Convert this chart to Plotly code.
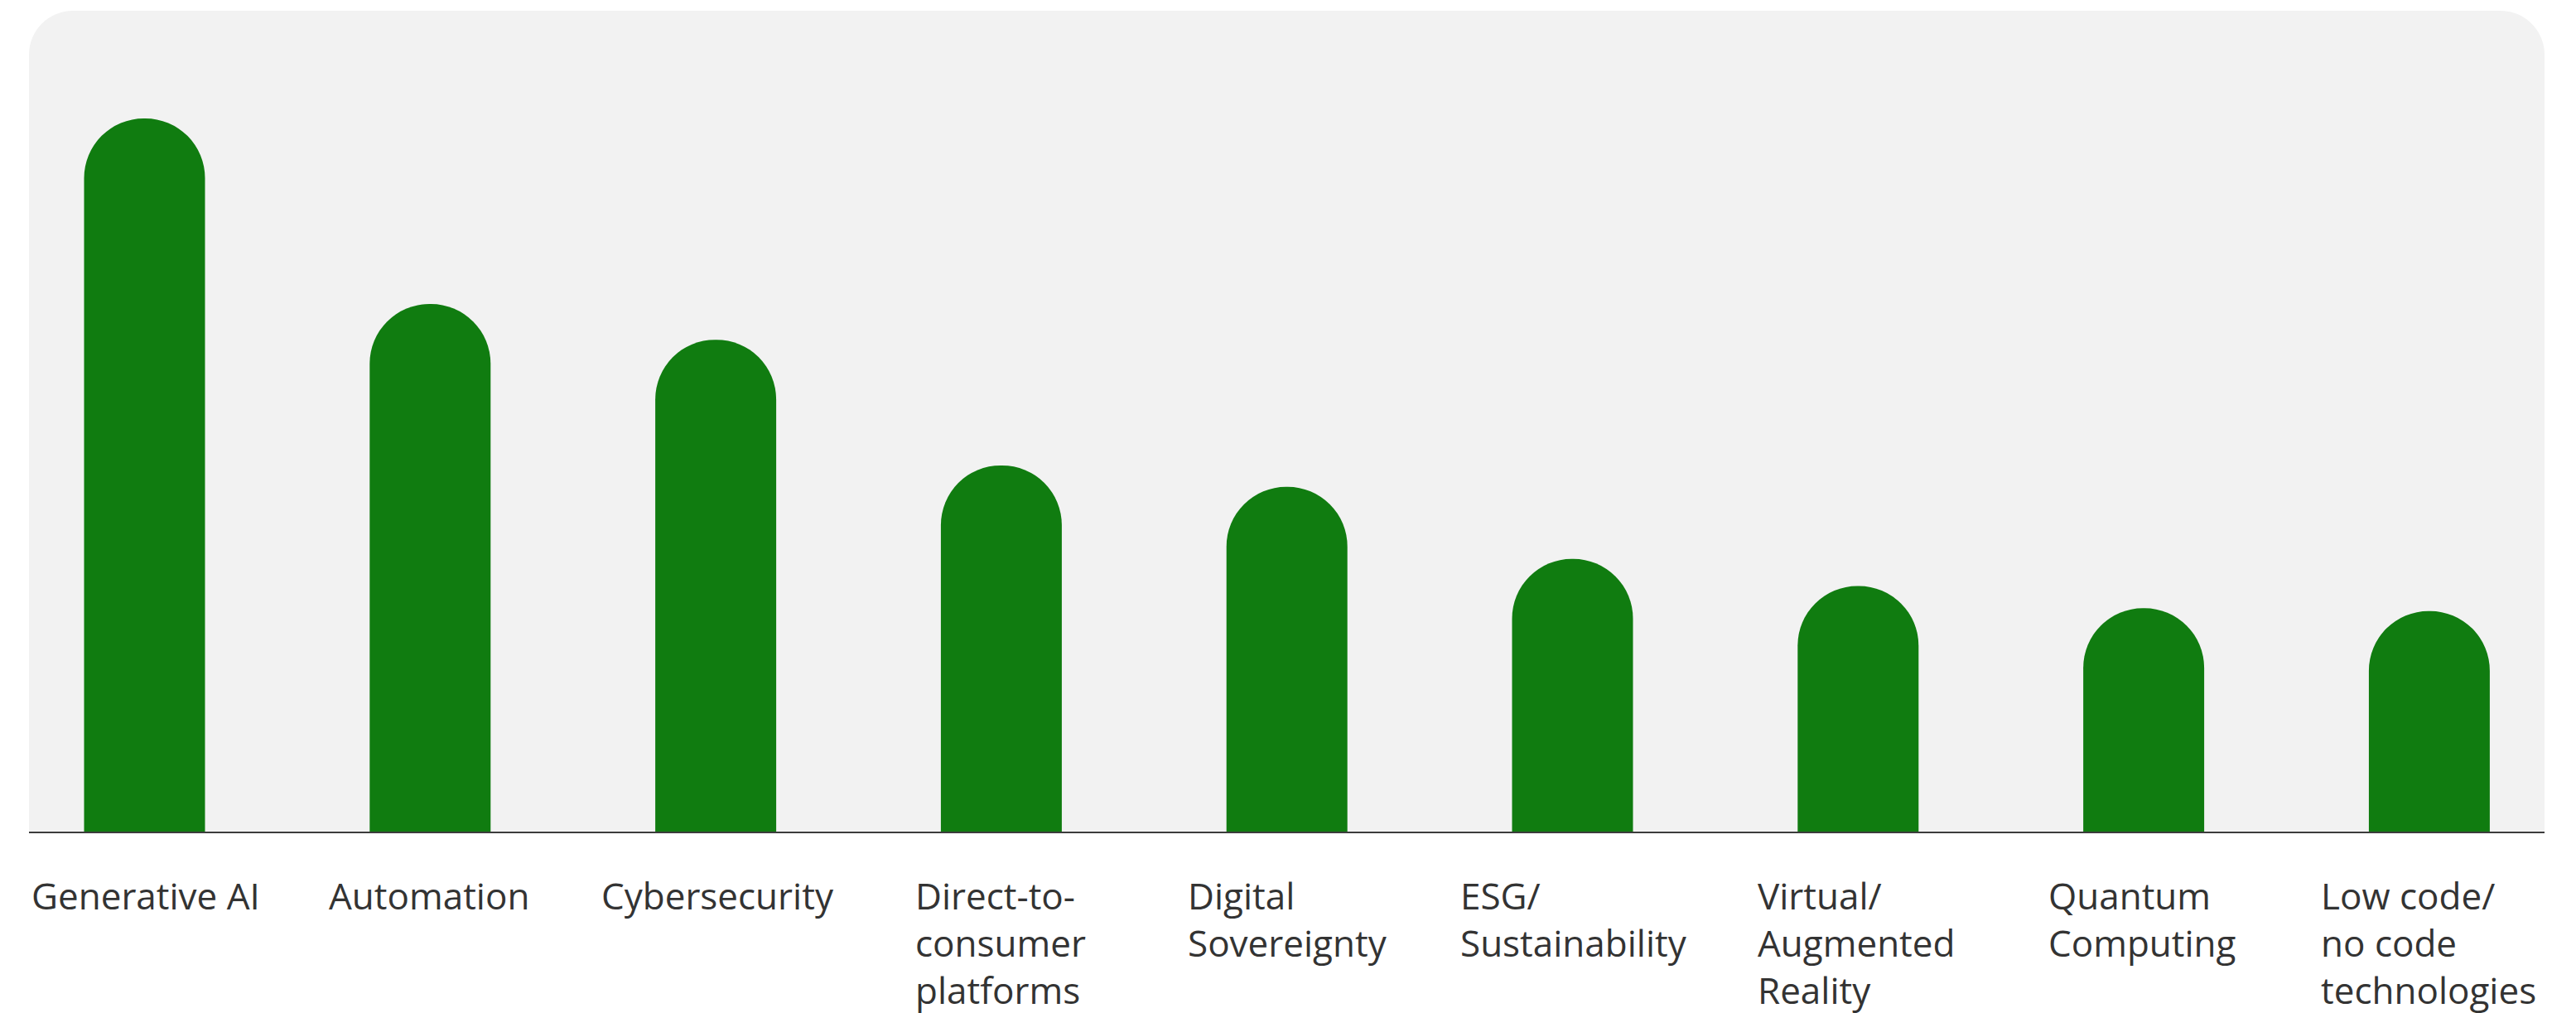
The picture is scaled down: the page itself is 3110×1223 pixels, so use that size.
import plotly.graph_objects as go

# ---- data (relative index, Generative AI = 100) ----
categories = [
    "Generative AI", "Automation", "Cybersecurity", "Direct-to-consumer platforms",
    "Digital Sovereignty", "ESG/Sustainability", "Virtual/Augmented Reality",
    "Quantum Computing", "Low code/no code technologies",
]
values = [100.0, 74.0, 69.0, 51.4, 48.4, 38.3, 34.5, 31.4, 31.0]
tick_labels = [
    "Generative AI", "Automation", "Cybersecurity", "Direct-to-<br>consumer<br>platforms",
    "Digital<br>Sovereignty", "ESG/<br>Sustainability", "Virtual/<br>Augmented<br>Reality",
    "Quantum<br>Computing", "Low code/<br>no code<br>technologies",
]
label_left_px = [36, 395, 724, 1103, 1432, 1761, 2120, 2471, 2800]

# ---- layout constants (page pixels; page body has an 8px margin) ----
OFF = 8
W, H = 3110 - OFF, 1223 - OFF
TOP, BASE = 13 - OFF, 1005 - OFF
PLOT_H = BASE - TOP
BG_L, BG_R, BG_RAD = 35 - OFF, 3072 - OFF, 53
GREEN = "#107C10"

def px_x(px):
    return px / W

def px_y(py):
    return (BASE - py) / PLOT_H

fig = go.Figure(
    go.Bar(
        x=categories,
        y=values,
        width=0.4234,
        marker=dict(color=GREEN, cornerradius="50%", line=dict(width=0)),
        hoverinfo="x+y",
    )
)

# rounded-top grey panel
k = 0.5523 * BG_RAD
x0, x1 = px_x(BG_L), px_x(BG_R)
path = (
    f"M {x0},{px_y(BASE)} "
    f"L {x0},{px_y(TOP + BG_RAD)} "
    f"C {x0},{px_y(TOP + BG_RAD - k)} {px_x(BG_L + BG_RAD - k)},{px_y(TOP)} {px_x(BG_L + BG_RAD)},{px_y(TOP)} "
    f"L {px_x(BG_R - BG_RAD)},{px_y(TOP)} "
    f"C {px_x(BG_R - BG_RAD + k)},{px_y(TOP)} {x1},{px_y(TOP + BG_RAD - k)} {x1},{px_y(TOP + BG_RAD)} "
    f"L {x1},{px_y(BASE)} Z"
)
shapes = [
    dict(type="path", path=path, xref="paper", yref="paper",
         fillcolor="#F2F2F2", line=dict(width=0), layer="below"),
    dict(type="line", xref="paper", yref="paper", x0=x0, x1=x1, y0=0, y1=0,
         line=dict(color="#3C3C3C", width=2), layer="above"),
]

annotations = []
for lab, lx in zip(tick_labels, label_left_px):
    annotations.append(dict(
        text=lab, x=px_x(lx - OFF), y=px_y(1049 - OFF), xref="paper", yref="paper",
        xanchor="left", yanchor="top", align="left", showarrow=False,
        font=dict(family="Open Sans, sans-serif", size=44, color="#333333"),
    ))

ymax = max(values) * PLOT_H / 862.0

fig.update_layout(
    width=W, height=H,
    margin=dict(l=0, r=0, t=TOP, b=H - BASE, pad=0),
    paper_bgcolor="white",
    plot_bgcolor="rgba(0,0,0,0)",
    showlegend=False,
    xaxis=dict(range=[-0.4829, 8.5136], showticklabels=False, showgrid=False,
               zeroline=False, showline=False, ticks=""),
    yaxis=dict(range=[0, ymax], visible=False, showgrid=False, zeroline=False),
    shapes=shapes,
    annotations=annotations,
    bargap=0.575,
)

fig.write_html("out.html")
